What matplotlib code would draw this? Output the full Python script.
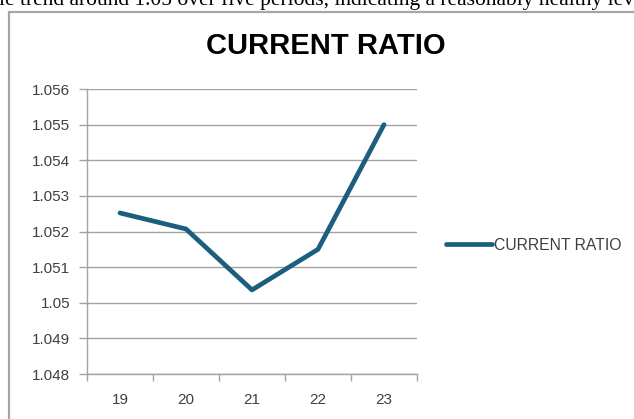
import numpy as np
import matplotlib.pyplot as plt
from matplotlib.patches import Rectangle
from matplotlib.ticker import FuncFormatter

# data
years = ['19', '20', '21', '22', '23']
current_ratio = [1.05252, 1.05207, 1.05036, 1.0515, 1.055]
y_ticks = [1.048, 1.049, 1.05, 1.051, 1.052, 1.053, 1.054, 1.055, 1.056]

line_color = '#1B5E7E'
grid_color = '#A3A3A3'
text_color = '#404040'

plt.rcParams['font.family'] = ['Liberation Sans', 'DejaVu Sans']

W, H = 634, 419
fig = plt.figure(figsize=(W / 100, H / 100), dpi=100)

# cut-off line of document text above the chart
fig.text(-1 / W, 1 - 5 / H, 'le trend around 1.05 over five periods, indicating a reasonably healthy lev',
         family=['Liberation Serif', 'DejaVu Serif'], fontsize=15.5, color='black',
         ha='left', va='baseline')

# chart frame (runs off the right and bottom edges)
fig.patches.append(Rectangle((9 / W, -0.05), 1.0, 1 - 12 / H + 0.05,
                             transform=fig.transFigure, fill=False,
                             edgecolor='#A6A6A6', linewidth=1.6))

ax = fig.add_axes([87 / W, 1 - 374 / H, (417 - 87) / W, (374 - 89) / H])

x = np.arange(len(years))
ax.plot(x, current_ratio, color=line_color, linewidth=3.4,
        solid_capstyle='round', solid_joinstyle='round', label='CURRENT RATIO')

ax.set_xlim(-0.5, len(years) - 0.5)
ax.set_ylim(y_ticks[0], y_ticks[-1])
ax.set_yticks(y_ticks)
ax.yaxis.set_major_formatter(FuncFormatter(lambda v, p: f'{v:.3f}'.rstrip('0')))

# category axis: ticks between categories, labels in the middle
ax.set_xticks(np.arange(-0.5, len(years), 1))
ax.set_xticklabels([])
ax.set_xticks(x, minor=True)
ax.set_xticklabels(years, minor=True)
ax.tick_params(axis='x', which='major', length=5, color=grid_color, width=1)
ax.tick_params(axis='x', which='minor', length=0, pad=14, labelsize=11, labelcolor=text_color)
ax.tick_params(axis='y', length=6, color=grid_color, width=1, pad=6,
               labelsize=11, labelcolor=text_color)

ax.grid(axis='y', color=grid_color, linewidth=1)
ax.set_axisbelow(True)
for s in ['top', 'right']:
    ax.spines[s].set_visible(False)
for s in ['left', 'bottom']:
    ax.spines[s].set_color(grid_color)
    ax.spines[s].set_linewidth(1)

fig.text(326 / W, 1 - 46 / H, 'CURRENT RATIO', fontsize=21, fontweight='bold',
         color='black', ha='center', va='center')

ax.legend(loc='center left', bbox_to_anchor=(446 / W, 1 - 245 / H),
          bbox_transform=fig.transFigure, frameon=False, fontsize=11.3,
          handlelength=2.9, handletextpad=0.15, borderpad=0, borderaxespad=0,
          labelcolor=text_color)

fig.savefig('out.png', dpi=100)
